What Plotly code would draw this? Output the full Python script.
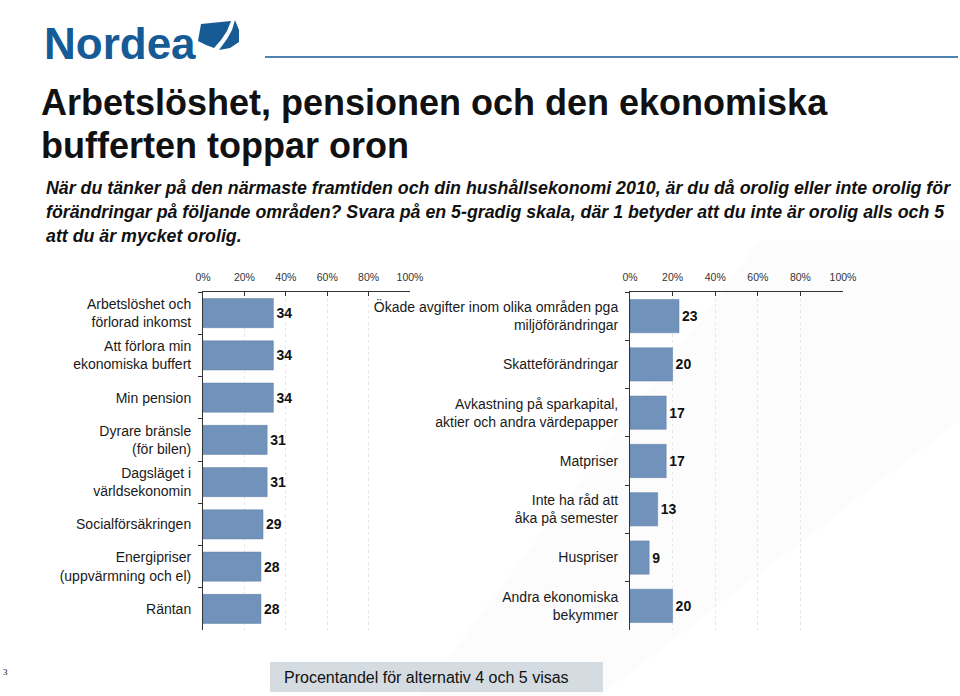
import plotly.graph_objects as go

W, H = 960, 696

left_categories = [
    "Arbetslöshet och<br>förlorad inkomst",
    "Att förlora min<br>ekonomiska buffert",
    "Min pension",
    "Dyrare bränsle<br>(för bilen)",
    "Dagsläget i<br>världsekonomin",
    "Socialförsäkringen",
    "Energipriser<br>(uppvärmning och el)",
    "Räntan",
]
left_values = [34, 34, 34, 31, 31, 29, 28, 28]

right_categories = [
    "Ökade avgifter inom olika områden pga<br>miljöförändringar",
    "Skatteförändringar",
    "Avkastning på sparkapital,<br>aktier och andra värdepapper",
    "Matpriser",
    "Inte ha råd att<br>åka på semester",
    "Huspriser",
    "Andra ekonomiska<br>bekymmer",
]
right_values = [23, 20, 17, 17, 13, 9, 20]

tick_values = [0, 20, 40, 60, 80, 100]
tick_labels = ["0%", "20%", "40%", "60%", "80%", "100%"]

title_lines = ["Arbetslöshet, pensionen och den ekonomiska", "bufferten toppar oron"]
subtitle_lines = [
    "När du tänker på den närmaste framtiden och din hushållsekonomi 2010, är du då orolig eller inte orolig för",
    "förändringar på följande områden? Svara på en 5-gradig skala, där 1 betyder att du inte är orolig alls och 5",
    "att du är mycket orolig.",
]
footnote = "Procentandel för alternativ 4 och 5 visas"

FONT = "Liberation Sans, Arial, Helvetica, sans-serif"
BAR = "#7193BB"
BLUE = "#165A96"


def px(x):
    return x / W


def py(y):
    return 1 - y / H


fig = go.Figure()
fig.add_trace(go.Bar(
    x=left_values, y=left_categories, orientation="h",
    marker=dict(color=BAR, line=dict(color="#5f7fa6", width=0.5)),
    text=left_values, texttemplate="<b>%{text}</b>", textposition="outside",
    textfont=dict(size=14, color="#111", family=FONT),
    cliponaxis=False, xaxis="x", yaxis="y", showlegend=False,
))
fig.add_trace(go.Bar(
    x=right_values, y=right_categories, orientation="h",
    marker=dict(color=BAR, line=dict(color="#5f7fa6", width=0.5)),
    text=right_values, texttemplate="<b>%{text}</b>", textposition="outside",
    textfont=dict(size=14, color="#111", family=FONT),
    cliponaxis=False, xaxis="x2", yaxis="y2", showlegend=False,
))

ydom = [py(630), py(292)]
xcommon = dict(
    range=[0, 100], side="top", tickvals=tick_values, ticktext=tick_labels,
    tickfont=dict(size=10.5, color="#333", family=FONT),
    showline=True, linecolor="#333", linewidth=1,
    ticks="inside", ticklen=4, tickcolor="#333",
    showgrid=True, gridcolor="#e6e6e6", griddash="dot", gridwidth=1,
    zeroline=False, automargin=False, fixedrange=True, ticklabelstandoff=6,
)
ycommon = dict(
    type="category", autorange="reversed", domain=ydom,
    tickson="boundaries", ticks="outside", ticklen=4, tickcolor="#333",
    showline=True, linecolor="#333", linewidth=1, showgrid=False,
    tickfont=dict(size=14, color="#1a1a1a", family=FONT),
    automargin=False, fixedrange=True, ticklabelstandoff=8,
)

fig.update_layout(
    width=W, height=H,
    margin=dict(l=0, r=0, t=0, b=0),
    paper_bgcolor="white", plot_bgcolor="rgba(0,0,0,0)",
    font=dict(family=FONT),
    bargap=0.31,
    xaxis=dict(domain=[px(203), px(410)], anchor="y", **xcommon),
    yaxis=dict(anchor="x", **ycommon),
    xaxis2=dict(domain=[px(630), px(843)], anchor="y2", **xcommon),
    yaxis2=dict(anchor="x2", **ycommon),
)

annotations = []
# Logo text
annotations.append(dict(text="<b>Nordea</b>", x=px(42), y=py(44), xref="paper", yref="paper",
                        xanchor="left", yanchor="middle", showarrow=False,
                        font=dict(size=44, color=BLUE, family=FONT)))
# Title
for i, line in enumerate(title_lines):
    annotations.append(dict(text="<b>" + line + "</b>", x=px(39), y=py(103 + 42 * i),
                            xref="paper", yref="paper", xanchor="left", yanchor="middle",
                            showarrow=False, font=dict(size=36, color="#111", family=FONT)))
# Subtitle
for i, line in enumerate(subtitle_lines):
    annotations.append(dict(text="<b><i>" + line + "</i></b>", x=px(44), y=py(188 + 24 * i),
                            xref="paper", yref="paper", xanchor="left", yanchor="middle",
                            showarrow=False, font=dict(size=17.8, color="#111", family=FONT)))
# Footnote
annotations.append(dict(text=footnote, x=px(282), y=py(677), xref="paper", yref="paper",
                        xanchor="left", yanchor="middle", showarrow=False,
                        font=dict(size=16, color="#111", family=FONT)))
annotations.append(dict(text="3", x=px(1), y=py(672), xref="paper", yref="paper",
                        xanchor="left", yanchor="middle", showarrow=False,
                        font=dict(size=9, color="#111", family="Liberation Serif, serif")))
fig.update_layout(annotations=annotations)


def path(points):
    return "M " + " L ".join(f"{px(x)},{py(y)}" for x, y in points) + " Z"


shapes = [
    # faint background sweep
    dict(type="path", xref="paper", yref="paper", layer="below",
         path=path([(760, 240), (960, 240), (960, 420), (600, 696), (420, 696)]),
         fillcolor="rgba(200,200,205,0.05)", line=dict(width=0)),
    # sail left part
    dict(type="path", xref="paper", yref="paper",
         path=path([(201, 24), (231, 21), (227, 31), (221, 40), (214, 48), (206, 45), (198, 41)]),
         fillcolor=BLUE, line=dict(width=0)),
    # sail right part
    dict(type="path", xref="paper", yref="paper",
         path=path([(235, 20), (239, 30), (239, 42), (230, 48), (219, 50), (227, 39), (232, 30)]),
         fillcolor=BLUE, line=dict(width=0)),
    # header line
    dict(type="line", xref="paper", yref="paper", x0=px(265), x1=px(958), y0=py(57), y1=py(57),
         line=dict(color=BLUE, width=1.5)),
    # footnote box
    dict(type="rect", xref="paper", yref="paper", x0=px(270), x1=px(603), y0=py(692), y1=py(662),
         fillcolor="#D4DBE1", line=dict(width=0), layer="below"),
]
fig.update_layout(shapes=shapes)

fig.write_html("out.html", config={"displayModeBar": False},
               post_script="document.body.style.margin='0';document.body.style.overflow='hidden';")
